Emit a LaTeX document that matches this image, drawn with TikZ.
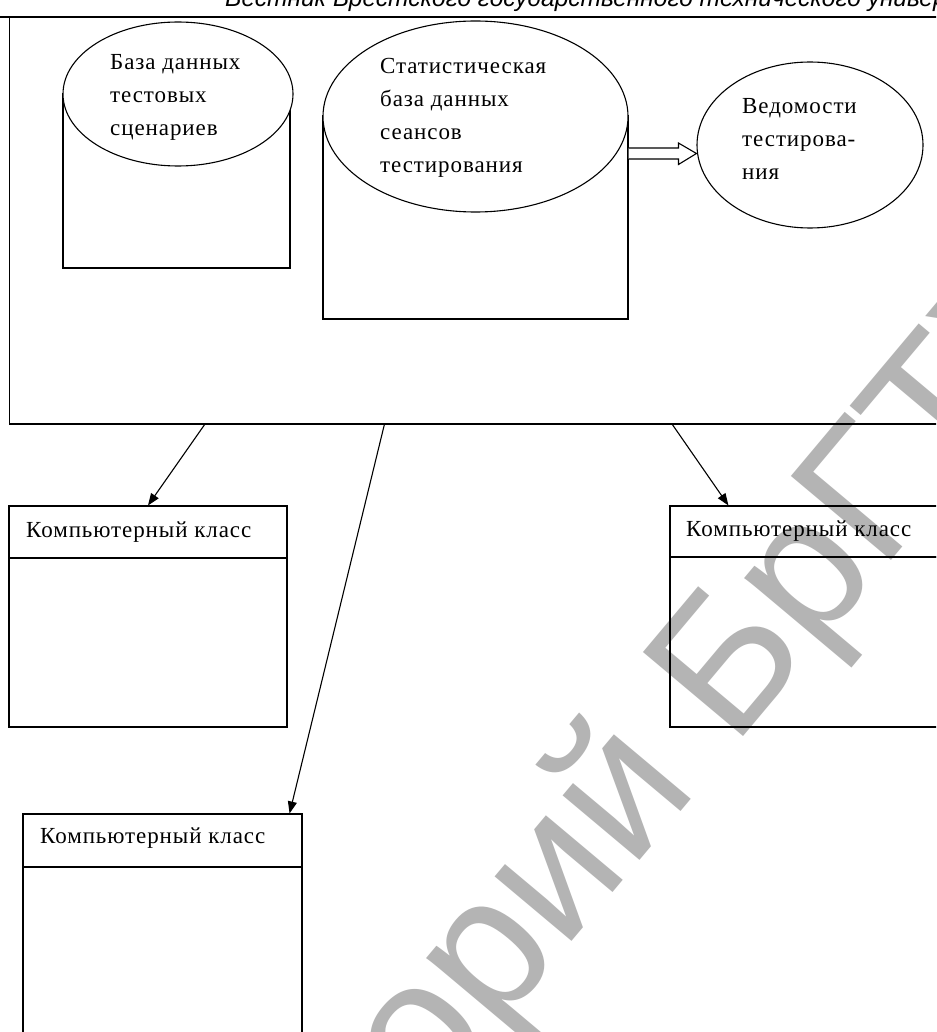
\documentclass[tikz,border=0pt]{standalone}
\usepackage{fontspec}
\setmainfont{Liberation Serif}[LetterSpace=4]
\newfontfamily\hdrfont{Liberation Sans}
\newfontfamily\wmfont{Liberation Sans}
\usetikzlibrary{arrows.meta,shapes.geometric,calc}
\definecolor{wmgray}{RGB}{180,180,180}
\tikzset{
  ln/.style={line width=1.1pt, draw=black},
  lab/.style={anchor=base west, inner sep=0pt, align=left, font=\fontsize{23}{33}\selectfont},
  topell/.style={ellipse, ln, fill=white, inner sep=0pt},
  bodybox/.style={rectangle, ln, inner sep=0pt},
  conn/.style={line width=1.1pt, -{Triangle[length=12pt,width=9pt]}},
  hollow/.style={line width=1.1pt, fill=white},
  wmark/.style={anchor=base, inner sep=0pt, rotate=50, text=wmgray, font=\wmfont\fontsize{190}{190}\selectfont},
}
\begin{document}
\begin{tikzpicture}[x=1pt,y=-1pt]
\useasboundingbox (0,0) rectangle (936,1032);
\fill[white] (0,0) rectangle (936,1032);
\clip (0,0) rectangle (936,1032);

% watermark
\node[wmark] (wm) at (536,984) {Репозиторий БрГТУ};

% page header
\node[anchor=base west, inner sep=0pt, font=\hdrfont\itshape\fontsize{24.5}{24.5}\selectfont] (hdr) at (225,7) {Вестник Брестского государственного технического университета};
\draw[line width=1.1pt] (0,17) -- (936,17);

% server frame
\node[bodybox, minimum width=950.5pt, minimum height=407pt] (server) at (484.75,220.5) {};

% cylinder 1
\node[bodybox, minimum width=227pt, minimum height=174pt] (body1) at (176.5,181) {};
\node[topell, minimum width=230pt, minimum height=144pt] (top1) at (178,94) {};
\node[lab] (t1) at (110,136) {База данных\\тестовых\\сценариев};

% cylinder 2
\node[bodybox, minimum width=305pt, minimum height=203pt] (body2) at (475.5,217.5) {};
\node[topell, minimum width=305pt, minimum height=191pt] (top2) at (475.5,116.5) {};
\node[lab] (t2) at (380,173) {Статистическая\\база данных\\сеансов\\тестирования};

% report ellipse
\node[topell, minimum width=226pt, minimum height=166pt] (ved) at (810,145) {};
\node[lab] (t3) at (742,180) {Ведомости\\тестирова-\\ния};

% hollow arrow
\coordinate (hy) at (0,153.5);
\coordinate (ha) at (body2.east |- hy);
\coordinate (hb) at (ved.west |- hy);
\draw[hollow] ($(ha)+(0,-5.5)$) -- ($(hb)+(-18,-5.5)$) -- ($(hb)+(-18,-10.5)$) -- (hb)
  -- ($(hb)+(-18,11)$) -- ($(hb)+(-18,5.5)$) -- ($(ha)+(0,5.5)$);

% computer classes
\node[bodybox, minimum width=278pt, minimum height=52pt] (k1h) at (148,532) {};
\node[bodybox, minimum width=278pt, minimum height=169pt] (k1b) at (148,642.5) {};
\node[lab] (k1t) at (26,537) {Компьютерный класс};

\node[bodybox, minimum width=290pt, minimum height=51pt] (k2h) at (815,531.5) {};
\node[bodybox, minimum width=290pt, minimum height=170pt] (k2b) at (815,642) {};
\node[lab] (k2t) at (686,536) {Компьютерный класс};

\node[bodybox, minimum width=279pt, minimum height=53pt] (k3h) at (162.5,840.5) {};
\node[bodybox, minimum width=279pt, minimum height=193pt] (k3b) at (162.5,963.5) {};
\node[lab] (k3t) at (40,843) {Компьютерный класс};

% connectors
\coordinate (s1) at (205,424);
\coordinate (s2) at (384.5,424);
\coordinate (s3) at (672,424);
\draw[conn] (s1) -- (k1h.north);
\draw[conn] (s2) -- ($(k3h.north east)+(-13,0)$);
\draw[conn] (s3) -- ($(k2h.north west)+(59,0)$);
\end{tikzpicture}
\end{document}
